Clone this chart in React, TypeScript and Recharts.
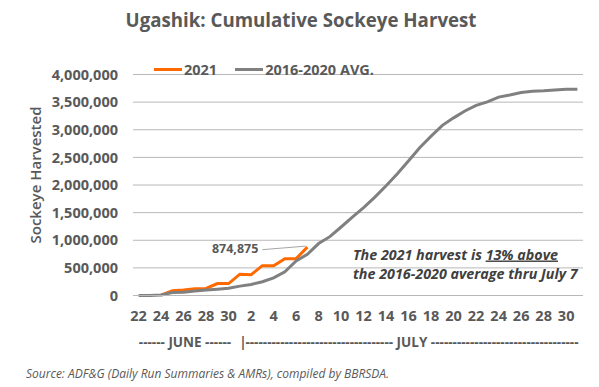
import React from 'react';
import { LineChart, Line, XAxis, YAxis, CartesianGrid, Legend, LabelList } from 'recharts';

const dates = [
  'Jun 22', 'Jun 23', 'Jun 24', 'Jun 25', 'Jun 26', 'Jun 27', 'Jun 28', 'Jun 29', 'Jun 30',
  'Jul 1', 'Jul 2', 'Jul 3', 'Jul 4', 'Jul 5', 'Jul 6', 'Jul 7', 'Jul 8', 'Jul 9', 'Jul 10',
  'Jul 11', 'Jul 12', 'Jul 13', 'Jul 14', 'Jul 15', 'Jul 16', 'Jul 17', 'Jul 18', 'Jul 19', 'Jul 20',
  'Jul 21', 'Jul 22', 'Jul 23', 'Jul 24', 'Jul 25', 'Jul 26', 'Jul 27', 'Jul 28', 'Jul 29', 'Jul 30', 'Jul 31',
];

const avg2016to2020 = [
  0, 2000, 10000, 55000, 60000, 80000, 100000, 115000, 130000,
  170000, 200000, 250000, 320000, 430000, 625000, 745000, 940000, 1065000, 1240000,
  1420000, 1590000, 1780000, 1985000, 2205000, 2440000, 2680000, 2885000, 3080000, 3215000,
  3340000, 3440000, 3505000, 3590000, 3630000, 3675000, 3695000, 3705000, 3720000, 3735000, 3735000,
];

const harvest2021: (number | null)[] = [
  null, null, 5000, 88000, 100000, 120000, 127000, 215000, 215000,
  386000, 375000, 540000, 540000, 667000, 667000, 874875,
];

const yTicks = [0, 500000, 1000000, 1500000, 2000000, 2500000, 3000000, 3500000, 4000000];

const seriesNames = { y2021: '2021', avg: '2016-2020 AVG.' };
const colors = { y2021: '#FF6A00', avg: '#808080' };

const data = dates.map((d, i) => ({
  date: d,
  avg: avg2016to2020[i],
  y2021: i < harvest2021.length ? harvest2021[i] : null,
}));

const FONT = "'Open Sans', sans-serif";
const TEXT = '#595959';
const GRID = '#b8b8b8';

const fmt = (v: number) => v.toLocaleString('en-US');

const LastLabel = (props: any) => {
  const { x, y, value, index } = props;
  if (index !== harvest2021.length - 1 || value == null) return null;
  return (
    <g>
      <line x1={x - 45} y1={y + 2.5} x2={x - 2} y2={y - 1} stroke="#a6a6a6" strokeWidth={1} />
      <text x={x - 49} y={y + 2} textAnchor="end" dominantBaseline="middle" fontFamily={FONT} fontSize={12.5} fontWeight={700} fill={TEXT}>
        {fmt(value)}
      </text>
    </g>
  );
};

const LegendContent = () => (
  <div style={{ display: 'flex', alignItems: 'center', fontFamily: FONT, fontSize: 14.5, fontWeight: 700, color: TEXT }}>
    <span style={{ display: 'inline-block', width: 28, height: 3, background: colors.y2021, marginRight: 2 }} />
    <span style={{ marginRight: 18 }}>{seriesNames.y2021}</span>
    <span style={{ display: 'inline-block', width: 28, height: 3, background: colors.avg, marginRight: 2 }} />
    <span>{seriesNames.avg}</span>
  </div>
);

export default function App() {
  return (
    <div style={{ position: 'absolute', left: 0, top: 0, width: 599, height: 387, background: '#fff' }}>
      <LineChart width={599} height={387} data={data} margin={{ top: 55.5, right: 16, bottom: 61.5, left: 0 }}>
        <CartesianGrid vertical={false} stroke={GRID} strokeWidth={1} />
        <XAxis
          dataKey="date"
          interval={1}
          height={30}
          padding={{ left: 5.6, right: 5.6 }}
          tickFormatter={(d: string) => d.split(' ')[1]}
          axisLine={{ stroke: GRID, strokeWidth: 1 }}
          tickLine={false}
          tickSize={0}
          tickMargin={15}
          tick={{ fontFamily: FONT, fontSize: 14.5, fontWeight: 700, fill: TEXT }}
        />
        <YAxis
          width={133}
          domain={[0, 4000000]}
          ticks={yTicks}
          tickFormatter={fmt}
          axisLine={false}
          tickLine={false}
          tickSize={0}
          tickMargin={15}
          tick={{ fontFamily: FONT, fontSize: 14.5, fontWeight: 700, fill: TEXT }}
        />
        <Legend
          verticalAlign="top"
          align="left"
          content={<LegendContent />}
          wrapperStyle={{ position: 'absolute', top: 60, left: 154, width: 320 }}
        />
        <Line
          type="linear"
          dataKey="y2021"
          name={seriesNames.y2021}
          stroke={colors.y2021}
          strokeWidth={3}
          dot={false}
          isAnimationActive={false}
        >
          <LabelList dataKey="y2021" content={<LastLabel />} />
        </Line>
        <Line
          type="linear"
          dataKey="avg"
          name={seriesNames.avg}
          stroke={colors.avg}
          strokeWidth={3}
          dot={false}
          isAnimationActive={false}
        />
      </LineChart>
      <svg width={599} height={387} style={{ position: 'absolute', left: 0, top: 0, pointerEvents: 'none' }}>
        <text x={301} y={22} textAnchor="middle" dominantBaseline="middle" fontFamily={FONT} fontSize={18.7} fontWeight={700} fill={TEXT}>
          Ugashik: Cumulative Sockeye Harvest
        </text>
        <text
          x={37}
          y={175}
          transform="rotate(-90 37 175)"
          textAnchor="middle"
          dominantBaseline="middle"
          fontFamily={FONT}
          fontSize={15}
          fontWeight={600}
          fill={TEXT}
        >
          Sockeye Harvested
        </text>
        <text y={343} dominantBaseline="middle" fontFamily={FONT} fontSize={13.5} fontWeight={700} fill={TEXT}>
          <tspan x={185} textAnchor="middle">------ JUNE ------</tspan>
          <tspan x={243} textAnchor="middle">|</tspan>
          <tspan x={412} textAnchor="middle">---------------------------------- JULY ----------------------------------</tspan>
        </text>
        <text x={353} y={255.5} dominantBaseline="middle" fontFamily={FONT} fontSize={14.3} fontWeight={700} fontStyle="italic" fill="#404040">
          <tspan x={353} y={255.5}>
            The 2021 harvest is <tspan style={{ textDecoration: 'underline' }}>13% above</tspan>
          </tspan>
          <tspan x={353} y={274.5}>the 2016-2020 average thru July 7</tspan>
        </text>
        <text x={26} y={375} dominantBaseline="middle" fontFamily={FONT} fontSize={12} fontStyle="italic" fill={TEXT}>
          Source: ADF&amp;G (Daily Run Summaries &amp; AMRs), compiled by BBRSDA.
        </text>
      </svg>
    </div>
  );
}
